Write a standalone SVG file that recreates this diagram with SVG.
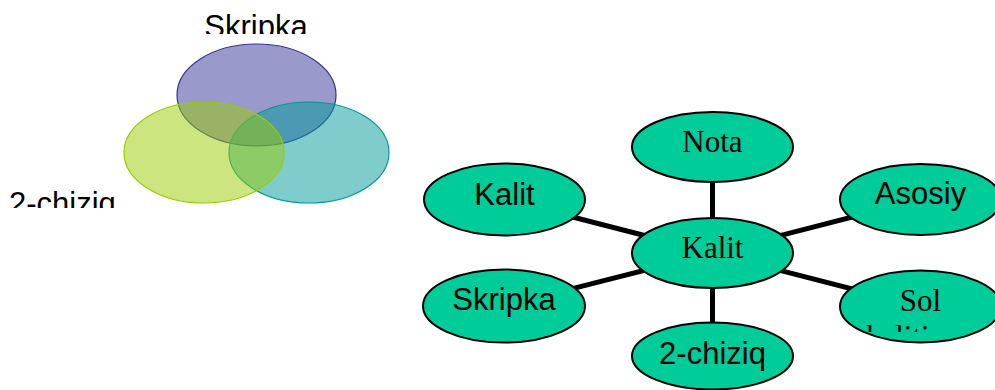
<svg xmlns="http://www.w3.org/2000/svg" width="995" height="390" viewBox="0 0 995 390">
<defs>
<style>
.venn{fill-opacity:0.5;stroke-width:1.2}
.node{fill:#00CC99;stroke:#000;stroke-width:2}
.edge{stroke:#000;stroke-width:5;fill:none}
.sans{font-family:"Liberation Sans",Arial,sans-serif;font-size:31px;fill:#000}
.serif{font-family:"Liberation Serif","Times New Roman",serif;font-size:31px;fill:#000}
</style>
<clipPath id="clipSkr"><rect x="0" y="0" width="400" height="34"/></clipPath>
<clipPath id="clipChz"><rect x="0" y="150" width="200" height="58"/></clipPath>
<clipPath id="clipSol"><rect x="840" y="260" width="155" height="72"/></clipPath>
</defs>
<rect width="995" height="390" fill="#fff"/>
<g id="venn">
<ellipse class="venn" cx="256.5" cy="95" rx="79.5" ry="51" fill="#333399" stroke="#333399"/>
<ellipse class="venn" cx="309" cy="152.5" rx="80" ry="50.5" fill="#009999" stroke="#009999"/>
<ellipse class="venn" cx="204" cy="152.5" rx="80" ry="50.5" fill="#99CC00" stroke="#99CC00"/>
<text class="sans" x="256" y="36.5" text-anchor="middle" clip-path="url(#clipSkr)">Skripka</text>
<text class="sans" x="9" y="214" clip-path="url(#clipChz)">2-chiziq</text>
</g>
<g id="connectors">
<line class="edge" x1="712.5" y1="253" x2="712.5" y2="147"/>
<line class="edge" x1="712.5" y1="253" x2="712.5" y2="356"/>
<line class="edge" x1="712.5" y1="253" x2="504.5" y2="199.5"/>
<line class="edge" x1="712.5" y1="253" x2="504" y2="306"/>
<line class="edge" x1="712.5" y1="253" x2="920.5" y2="199.5"/>
<line class="edge" x1="712.5" y1="253" x2="920.5" y2="306.5"/>
</g>
<g id="node-nota">
<ellipse class="node" cx="712.5" cy="147" rx="80.5" ry="35"/>
<text class="serif" x="712.5" y="152.3" text-anchor="middle">Nota</text>
</g>
<g id="node-kalit-left">
<ellipse class="node" cx="504.5" cy="199.5" rx="80.5" ry="36"/>
<text class="sans" x="504.5" y="205" text-anchor="middle">Kalit</text>
</g>
<g id="node-skripka">
<ellipse class="node" cx="504" cy="306" rx="81" ry="36.5"/>
<text class="sans" x="504" y="310" text-anchor="middle">Skripka</text>
</g>
<g id="node-kalit-center">
<ellipse class="node" cx="712.5" cy="253" rx="80.5" ry="35"/>
<text class="serif" x="712.5" y="258.3" text-anchor="middle">Kalit</text>
</g>
<g id="node-2chiziq">
<ellipse class="node" cx="712.5" cy="356" rx="80.5" ry="33.5"/>
<text class="sans" x="712.5" y="364" text-anchor="middle">2-chiziq</text>
</g>
<g id="node-asosiy">
<ellipse class="node" cx="920.5" cy="199.5" rx="80.5" ry="35.5"/>
<text class="sans" x="920.5" y="204" text-anchor="middle">Asosiy</text>
</g>
<g id="node-sol">
<ellipse class="node" cx="920.5" cy="306.5" rx="80.5" ry="36"/>
<text class="serif" x="920.5" y="311" text-anchor="middle">Sol</text>
<text class="serif" x="866" y="347" clip-path="url(#clipSol)">kaliti</text>
</g>
</svg>
